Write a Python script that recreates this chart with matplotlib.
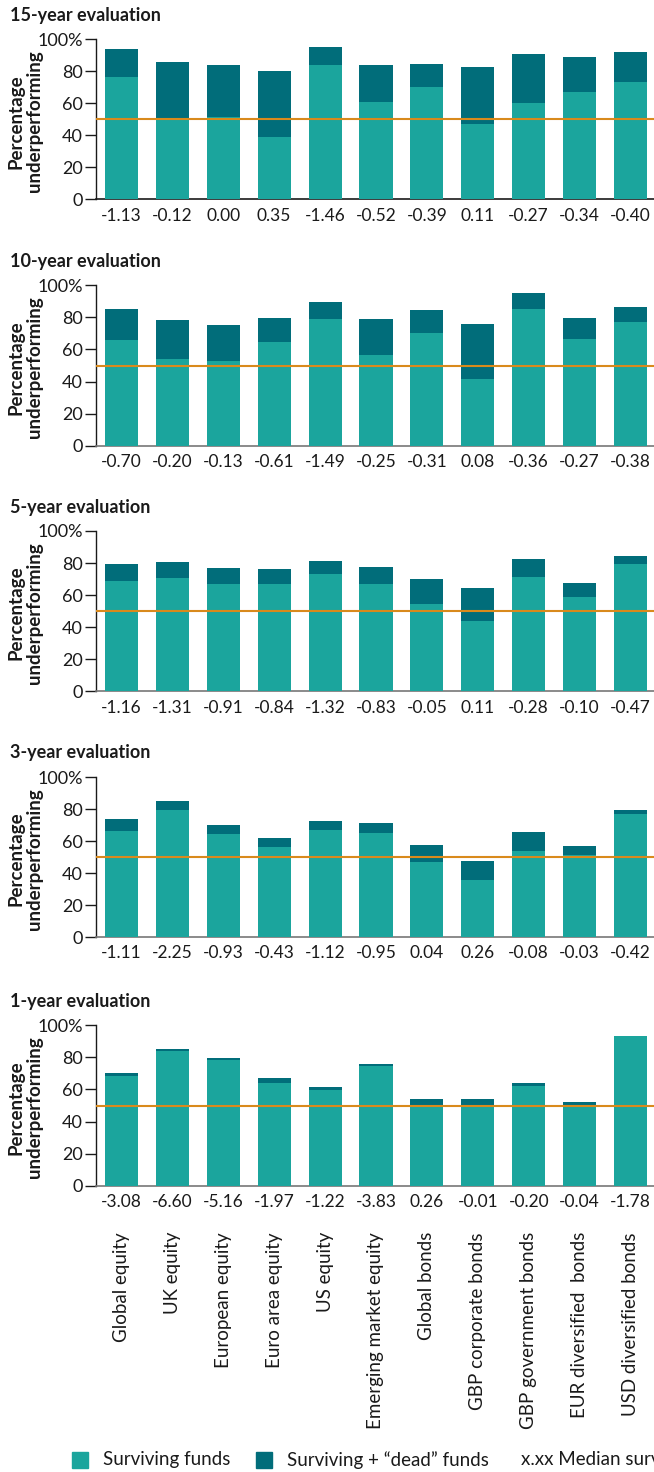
import matplotlib
matplotlib.use("Agg")
import matplotlib.pyplot as plt
import matplotlib.patches as mpatches
import numpy as np

plt.rcParams['font.family'] = ['Lato', 'DejaVu Sans']

categories = ["Global equity", "UK equity", "European equity", "Euro area equity",
              "US equity", "Emerging market equity", "Global bonds",
              "GBP corporate bonds", "GBP government bonds",
              "EUR diversified  bonds", "USD diversified bonds"]

titles = ["15-year evaluation", "10-year evaluation", "5-year evaluation",
          "3-year evaluation", "1-year evaluation"]

# surviving funds underperforming (%)
surviving_15 = [76.5, 50.8, 51.5, 39.0, 84.0, 60.8, 70.2, 47.1, 60.2, 67.1, 73.3]
surviving_10 = [65.9, 54.1, 52.8, 64.7, 79.0, 56.5, 70.3, 41.6, 85.2, 66.5, 77.1]
surviving_5 = [68.8, 70.7, 66.9, 66.9, 73.2, 66.9, 54.5, 43.9, 71.3, 58.8, 79.4]
surviving_3 = [66.2, 79.4, 64.4, 56.2, 66.9, 65.0, 46.9, 35.6, 53.8, 51.2, 76.9]
surviving_1 = [68.4, 84.0, 78.4, 64.0, 59.7, 74.6, 48.8, 50.3, 62.2, 50.3, 93.3]

# surviving + "dead" funds underperforming (%)
total_15 = [94.0, 85.8, 84.0, 80.2, 95.2, 84.0, 84.6, 82.7, 90.8, 89.0, 92.1]
total_10 = [85.2, 78.4, 75.3, 79.6, 89.6, 79.0, 84.6, 75.9, 95.2, 79.6, 86.5]
total_5 = [79.4, 80.7, 76.9, 76.3, 81.3, 77.5, 70.1, 64.4, 82.5, 67.6, 84.4]
total_3 = [73.8, 85.0, 70.0, 61.9, 72.5, 71.2, 57.5, 47.5, 65.6, 56.9, 79.4]
total_1 = [70.3, 85.2, 79.6, 67.2, 61.5, 75.9, 54.1, 54.1, 64.0, 52.2, 93.3]

# median survivorship bias
median_15 = ["-1.13", "-0.12", "0.00", "0.35", "-1.46", "-0.52", "-0.39", "0.11", "-0.27", "-0.34", "-0.40"]
median_10 = ["-0.70", "-0.20", "-0.13", "-0.61", "-1.49", "-0.25", "-0.31", "0.08", "-0.36", "-0.27", "-0.38"]
median_5 = ["-1.16", "-1.31", "-0.91", "-0.84", "-1.32", "-0.83", "-0.05", "0.11", "-0.28", "-0.10", "-0.47"]
median_3 = ["-1.11", "-2.25", "-0.93", "-0.43", "-1.12", "-0.95", "0.04", "0.26", "-0.08", "-0.03", "-0.42"]
median_1 = ["-3.08", "-6.60", "-5.16", "-1.97", "-1.22", "-3.83", "0.26", "-0.01", "-0.20", "-0.04", "-1.78"]

surviving = [surviving_15, surviving_10, surviving_5, surviving_3, surviving_1]
totals = [total_15, total_10, total_5, total_3, total_1]
medians = [median_15, median_10, median_5, median_3, median_1]

light = "#1ba59d"
dark = "#016d7a"
orange = "#d98a1c"
txt = "#1a1a1a"

W, H = 654, 1472
fig = plt.figure(figsize=(W / 100, H / 100), dpi=100)

tops = [39.3, 285.3, 531, 777, 1025.3]
bottoms = [199.3, 445.7, 691.3, 937, 1185.7]
title_y = [15, 261, 507, 752, 1001]
ax_left, ax_right = 96, 656

x = np.arange(len(categories))
for k in range(5):
    top, bot = tops[k], bottoms[k]
    ax = fig.add_axes([ax_left / W, 1 - bot / H, (ax_right - ax_left) / W, (bot - top) / H])
    ax.bar(x, totals[k], width=0.65, color=dark, zorder=2)
    ax.bar(x, surviving[k], width=0.65, color=light, zorder=3)
    ax.axhline(50, color=orange, lw=1.5, zorder=4)
    ax.set_xlim(-0.5, 10.5)
    ax.set_ylim(0, 100)
    ax.set_yticks([0, 20, 40, 60, 80, 100])
    ax.set_yticklabels(["0", "20", "40", "60", "80", "100%"])
    ax.set_xticks(x)
    ax.set_xticklabels(medians[k])
    ax.tick_params(axis='x', length=0, pad=6, labelsize=12.5, colors=txt)
    ax.tick_params(axis='y', length=8, width=1, pad=1.5, labelsize=13, colors=txt)
    for s in ["top", "right"]:
        ax.spines[s].set_visible(False)
    ax.spines["left"].set_color(txt)
    ax.spines["bottom"].set_color(txt if k == 0 else "#777777")
    ax.spines["left"].set_linewidth(1)
    ax.spines["bottom"].set_linewidth(1.2)

    fig.text(10 / W, 1 - title_y[k] / H, titles[k], fontsize=13, fontweight="bold",
             va="center", ha="left", color=txt)
    fig.text(25 / W, 1 - (top + bot + 4) / 2 / H, "Percentage\nunderperforming",
             rotation=90, ha="center", va="center", multialignment="center",
             fontsize=13.5, fontweight="bold", linespacing=1.1, color=txt)

    if k == 4:
        for i, cat in enumerate(categories):
            ax.annotate(cat, xy=(i, 0), xycoords=("data", "axes fraction"),
                        xytext=(0, -(1232 - bot) * 0.72), textcoords="offset points",
                        rotation=90, ha="center", va="top", fontsize=13.5, color=txt)

# legend
ly = 1460
for x0, col in [(72, light), (256, dark)]:
    fig.add_artist(mpatches.Rectangle((x0 / W, 1 - (ly + 8) / H), 16 / W, 16 / H,
                                      transform=fig.transFigure, color=col))
fig.text(103 / W, 1 - ly / H, "Surviving funds", fontsize=13.5, va="center", color=txt)
fig.text(287 / W, 1 - ly / H, "Surviving + \u201cdead\u201d funds", fontsize=13.5, va="center", color=txt)
fig.text(521 / W, 1 - ly / H, "x.xx Median survivorship bias", fontsize=13.5, va="center", color=txt)

fig.savefig("out.png", dpi=100)
